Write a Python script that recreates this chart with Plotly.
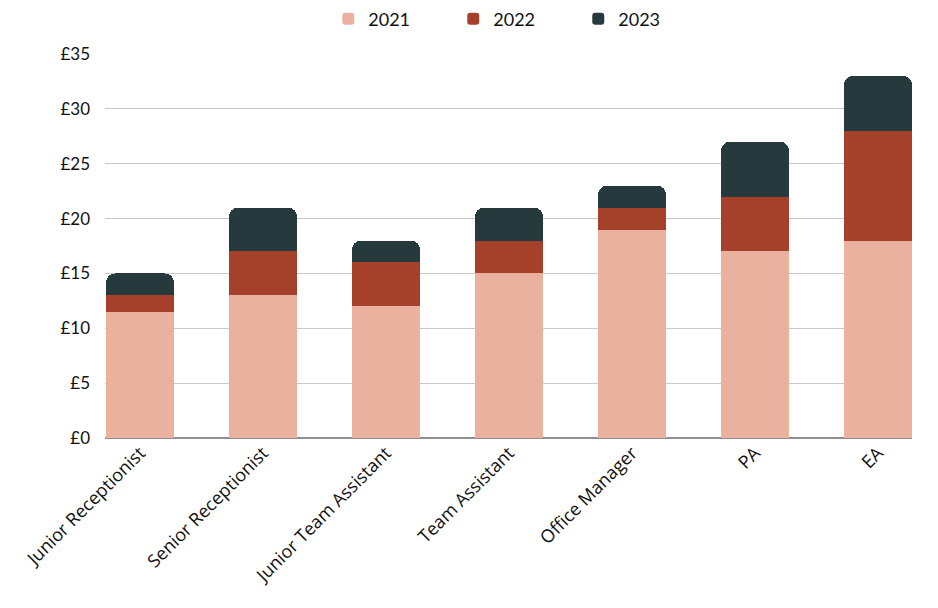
import plotly.graph_objects as go

categories = ["Junior Receptionist", "Senior Receptionist", "Junior Team Assistant",
              "Team Assistant", "Office Manager", "PA", "EA"]
v2021 = [11.5, 13, 12, 15, 19, 17, 18]
v2022 = [1.5, 4, 4, 3, 2, 5, 10]
v2023 = [2, 4, 2, 3, 2, 5, 5]
series_names = ["2021", "2022", "2023"]
colors = ["#EAB19F", "#A5402A", "#263A3D"]
tick_vals = [0, 5, 10, 15, 20, 25, 30, 35]
tick_text = ["£0", "£5", "£10", "£15", "£20", "£25", "£30", "£35"]

fig = go.Figure()
for name, vals, c in zip(series_names, [v2021, v2022, v2023], colors):
    fig.add_trace(go.Bar(x=categories, y=vals, name=name, marker_color=c,
                         marker_line_width=0, width=0.553))

fig.update_layout(
    barmode="stack",
    barcornerradius=9,
    width=938, height=608,
    margin=dict(l=105, r=26, t=54, b=170, autoexpand=False),
    plot_bgcolor="white", paper_bgcolor="white",
    font=dict(family="Lato", color="#111111"),
    legend=dict(orientation="h", x=0.509, xanchor="center", y=0.999, yanchor="top",
                yref="container", traceorder="normal",
                entrywidth=80, entrywidthmode="pixels",
                font=dict(size=18, family="Lato")),
    showlegend=True,
)
fig.update_xaxes(range=[-0.285, 6.276], tickangle=-45,
                 tickfont=dict(size=18, family="Open Sans, DejaVu Sans, sans-serif"),
                 showgrid=False, showline=False, ticks="")
fig.update_yaxes(range=[0, 35], tickvals=tick_vals, ticktext=tick_text,
                 tickfont=dict(size=17, family="Lato"), gridcolor="#C8C8C8", gridwidth=1,
                 zeroline=True, zerolinecolor="#8E8E8E", zerolinewidth=1.5, ticks="",
                 ticklabelstandoff=14)

fig.write_html("out.html")
